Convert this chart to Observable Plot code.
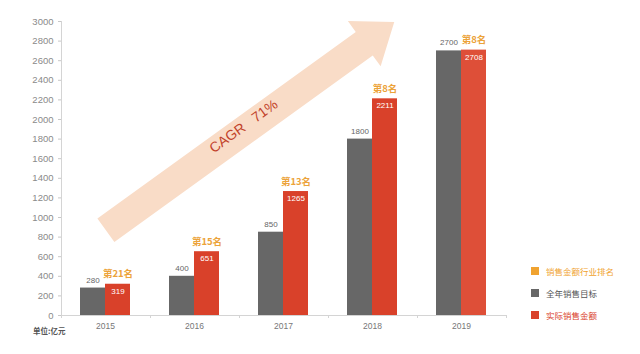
<!DOCTYPE html>
<html><head><meta charset="utf-8">
<script src="https://cdn.jsdelivr.net/npm/d3@7"></script>
<script src="https://cdn.jsdelivr.net/npm/@observablehq/plot@0.6"></script>
<style>
html,body{margin:0;padding:0;background:#fff;}
#wrap{position:relative;width:640px;height:354px;overflow:hidden;font-family:Helvetica,Arial,"Liberation Sans","Noto Sans CJK SC",sans-serif;}
#wrap svg{position:absolute;left:0;top:0;}
.legend{position:absolute;left:531px;top:260px;font-size:8.5px;font-family:"Noto Sans CJK SC",sans-serif;}
.legend div{height:22px;display:flex;align-items:center;white-space:nowrap;}
.legend span.sw{width:8px;height:8px;margin-right:7px;display:inline-block;}
.unit{position:absolute;left:33px;top:325px;font-size:7.5px;font-weight:bold;color:#555;font-family:"Noto Sans CJK SC",sans-serif;}
</style></head><body><div id="wrap"></div>
<script>
// ---- data ----
const years  = ["2015", "2016", "2017", "2018", "2019"];
const target = [280, 400, 850, 1800, 2700];          // 全年销售目标
const actual = [319, 651, 1265, 2211, 2708];         // 实际销售金额
const ranks  = ["第21名", "第15名", "第13名", "第8名", "第8名"]; // 销售金额行业排名
const yTicks = [0, 200, 400, 600, 800, 1000, 1200, 1400, 1600, 1800, 2000, 2200, 2400, 2600, 2800, 3000];
const legendLabels = ["销售金额行业排名", "全年销售目标", "实际销售金额"];
const cagrLabel = "CAGR\u00a0\u00a0\u00a071%";
// arrow annotation: tail & tip in data terms (year band centre + fraction of a step, value)
const arrowTail = {year: "2015", shift: 0.01, value: 865};
const arrowTip  = {year: "2018", shift: 0.25, value: 2990};

// ---- styles ----
const C = {gray: "#676767", red: "#d9412a", red2: "#de4f38", rank: "#eca33a", legendOrange: "#f0a330",
           arrow: "#f9dcc7", cagr: "#c2432b", axis: "#d4d4d4", tickText: "#8a8a8a"};

const rows = years.map((year, i) => ({year, target: target[i], actual: actual[i], rank: ranks[i]}));

function axisLines(index, scales, values, dims) {
  const {x, y} = scales;
  const bw = x.bandwidth ? x.bandwidth() : 50;
  const x0 = dims.marginLeft, x1 = dims.width - dims.marginRight;
  const y0 = y(0), yTop = y(d3.max(yTicks));
  const g = d3.create("svg:g").attr("stroke", C.axis).attr("fill", "none");
  g.append("line").attr("x1", x0 + 0.5).attr("x2", x0 + 0.5).attr("y1", y0).attr("y2", yTop);
  g.append("line").attr("x1", x0).attr("x2", x1).attr("y1", y0 + 0.5).attr("y2", y0 + 0.5);
  const tx = [x0, x1];
  for (let i = 1; i < years.length; i++) tx.push((x(years[i - 1]) + bw + x(years[i])) / 2);
  for (const t of tx) g.append("line").attr("x1", Math.round(t) + 0.5).attr("x2", Math.round(t) + 0.5).attr("y1", y0).attr("y2", y0 + 3);
  return g.node();
}

function growthArrow(index, scales) {
  const {x, y} = scales;
  const step = x.step ? x.step() : 89, bw = x.bandwidth ? x.bandwidth() : 50;
  const P = (a) => [x(a.year) + bw / 2 + a.shift * step, y(a.value)];
  const T = P(arrowTail), H = P(arrowTip);
  const dx = H[0] - T[0], dy = H[1] - T[1], L = Math.hypot(dx, dy);
  const u = [dx / L, dy / L], n = [-u[1], u[0]];
  const sw = 14.5, hw = 28, hl = 37;
  const at = (s, p) => [T[0] + u[0] * s + n[0] * p, T[1] + u[1] * s + n[1] * p];
  const pts = [at(0, -sw), at(L - hl, -sw), at(L - hl, -hw), at(L, 0), at(L - hl, hw), at(L - hl, sw), at(0, sw)];
  const g = d3.create("svg:g");
  g.append("polygon").attr("points", pts.map(p => p.join(",")).join(" ")).attr("fill", C.arrow);
  const c = at(L * 0.485, -4);
  const ang = Math.atan2(dy, dx) * 180 / Math.PI;
  g.append("text").attr("transform", `translate(${c[0]},${c[1]}) rotate(${ang})`)
    .attr("text-anchor", "middle").attr("dy", "0.35em")
    .attr("fill", C.cagr).attr("font-size", 14).attr("font-family", "Arial, 'Liberation Sans', sans-serif")
    .text(cagrLabel);
  return g.node();
}

const chart = Plot.plot({
  width: 640, height: 354,
  marginLeft: 61, marginRight: 134, marginTop: 21, marginBottom: 39,
  style: {fontFamily: "Helvetica, Arial, 'Liberation Sans', 'Noto Sans CJK SC', sans-serif", background: "transparent"},
  x: {domain: years, paddingInner: 0.438, paddingOuter: 0.219, label: null},
  y: {domain: [0, 3000], label: null},
  marks: [
    growthArrow,
    axisLines,
    Plot.axisY({ticks: yTicks, tickFormat: d => String(d), tickSize: 3, tickPadding: 5, stroke: "#c8c8c8", fill: C.tickText, fontSize: 9.5, label: null}),
    Plot.axisX({tickSize: 0, tickPadding: 7, fill: "#777", fontSize: 8.5, label: null}),
    Plot.barY(rows, {x: "year", y: "target", fill: C.gray, insetRight: 25}),
    Plot.barY(rows, {x: "year", y: "actual", fill: d => d.year === "2019" ? C.red2 : C.red, insetLeft: 25}),
    Plot.text(rows, {x: "year", y: "target", text: d => String(d.target), dx: -12.5, dy: -8, fill: "#666", fontSize: 8}),
    Plot.text(rows, {x: "year", y: "actual", text: d => String(d.actual), dx: 12.5, dy: 7, fill: "#fff", fontSize: 8}),
    Plot.text(rows, {x: "year", y: "actual", text: "rank", dx: 12.5, dy: -10, fill: C.rank, fontSize: 9.5, fontWeight: "bold",
                     fontFamily: "'Noto Sans CJK SC', sans-serif"})
  ]
});

const wrap = document.getElementById("wrap");
wrap.appendChild(chart);
const legend = document.createElement("div");
legend.className = "legend";
const lcolors = [C.legendOrange, C.gray, C.red];
const tcolors = [C.legendOrange, "#555", C.red];
legendLabels.forEach((t, i) => {
  const row = document.createElement("div");
  row.innerHTML = `<span class="sw" style="background:${lcolors[i]}"></span><span style="color:${tcolors[i]}">${t}</span>`;
  legend.appendChild(row);
});
wrap.appendChild(legend);
const unit = document.createElement("div");
unit.className = "unit";
unit.textContent = "单位:亿元";
wrap.appendChild(unit);
</script>
</body></html>
